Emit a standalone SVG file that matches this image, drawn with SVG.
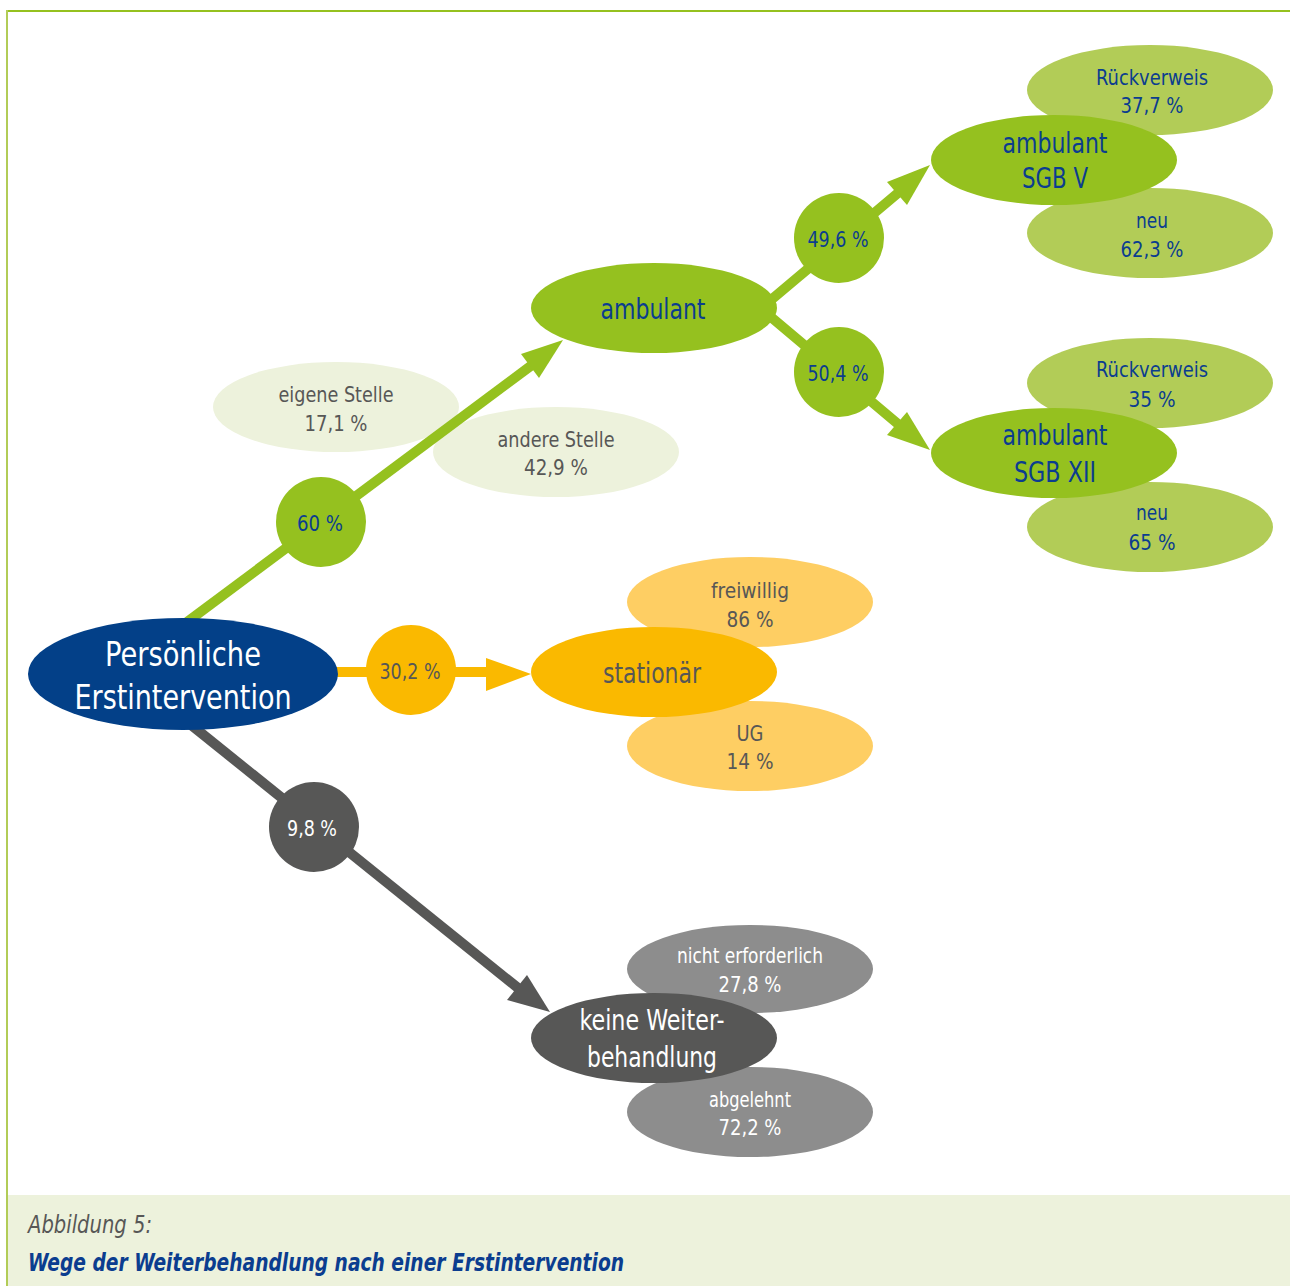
<svg xmlns="http://www.w3.org/2000/svg" width="1290" height="1286" viewBox="0 0 1290 1286">
<style>
text{font-family:"DejaVu Sans Condensed","Liberation Sans",sans-serif;font-stretch:condensed;text-anchor:middle}
.big{font-size:29px}
.sm{font-size:22px}
.pc{font-size:22px}
.blue{fill:#0B3D8F}
.gray{fill:#575756}
.white{fill:#ffffff}
.g{fill:#95C11F}
.lg{fill:#B2CC57}
.vlg{fill:#EDF2DC}
.or{fill:#FAB900}
.lor{fill:#FECE63}
.dg{fill:#575756}
.mg{fill:#8D8D8D}
</style>
<rect x="0" y="0" width="1290" height="1286" fill="#ffffff"/>
<rect x="8" y="1195" width="1282" height="91" fill="#EDF2DC"/>
<line x1="7" y1="11" x2="1290" y2="11" stroke="#95C11F" stroke-width="2"/>
<line x1="7" y1="10" x2="7" y2="1286" stroke="#B2CC57" stroke-width="2"/>

<g id="eigene-stelle"><ellipse cx="336" cy="407" rx="123" ry="45" class="vlg"/><text class="sm gray" x="336" y="402" textLength="115" lengthAdjust="spacingAndGlyphs">eigene Stelle</text><text class="sm gray" x="336" y="431" textLength="63" lengthAdjust="spacingAndGlyphs">17,1 %</text></g>
<g id="andere-stelle"><ellipse cx="556" cy="452" rx="123" ry="45" class="vlg"/><text class="sm gray" x="556" y="447" textLength="117" lengthAdjust="spacingAndGlyphs">andere Stelle</text><text class="sm gray" x="556" y="475" textLength="64" lengthAdjust="spacingAndGlyphs">42,9 %</text></g>

<g id="connectors">
<g fill="#95C11F" stroke="#95C11F">
<line x1="183" y1="625" x2="532" y2="365" stroke-width="10"/>
<polygon points="563,340 521,354 539,378" stroke="none"/>
<line x1="765" y1="305" x2="898" y2="193" stroke-width="10"/>
<polygon points="930,165 887,182 907,205" stroke="none"/>
<line x1="765" y1="312" x2="898" y2="424" stroke-width="10"/>
<polygon points="930,450 887,435 907,412" stroke="none"/>
</g>
<line x1="300" y1="672" x2="488" y2="672" stroke="#FAB900" stroke-width="10"/>
<polygon points="531,674 486,658 486,691" fill="#FAB900"/>
<line x1="185" y1="720" x2="518" y2="988" stroke="#575756" stroke-width="10"/>
<polygon points="550,1012 507,1000 527,975" fill="#575756"/>
</g>

<g id="p60"><circle cx="321" cy="522" r="45" class="g"/><text class="pc blue" x="320" y="531" textLength="46" lengthAdjust="spacingAndGlyphs">60 %</text></g>
<g id="p496"><circle cx="839" cy="238" r="45" class="g"/><text class="pc blue" x="838" y="247" textLength="61" lengthAdjust="spacingAndGlyphs">49,6 %</text></g>
<g id="p504"><circle cx="839" cy="372" r="45" class="g"/><text class="pc blue" x="838" y="381" textLength="61" lengthAdjust="spacingAndGlyphs">50,4 %</text></g>
<g id="p302"><circle cx="411" cy="670" r="45" class="or"/><text class="pc gray" x="410" y="679" textLength="61" lengthAdjust="spacingAndGlyphs">30,2 %</text></g>
<g id="p98"><circle cx="314" cy="827" r="45" class="dg"/><text class="pc white" x="312" y="836" textLength="50" lengthAdjust="spacingAndGlyphs">9,8 %</text></g>

<g id="root"><ellipse cx="183" cy="674" rx="155" ry="56" fill="#034088"/><text class="white" font-size="33" x="183" y="666" textLength="156" lengthAdjust="spacingAndGlyphs">Persönliche</text><text class="white" font-size="33" x="183" y="709" textLength="217" lengthAdjust="spacingAndGlyphs">Erstintervention</text></g>

<g id="ambulant"><ellipse cx="654" cy="308" rx="123" ry="45" class="g"/><text class="big blue" x="653" y="319" textLength="105" lengthAdjust="spacingAndGlyphs">ambulant</text></g>

<g id="sgbv-rueck"><ellipse cx="1150" cy="90" rx="123" ry="45" class="lg"/><text class="sm blue" x="1152" y="85" textLength="112" lengthAdjust="spacingAndGlyphs">Rückverweis</text><text class="sm blue" x="1152" y="113" textLength="63" lengthAdjust="spacingAndGlyphs">37,7 %</text></g>
<g id="sgbv-neu"><ellipse cx="1150" cy="233" rx="123" ry="45" class="lg"/><text class="sm blue" x="1152" y="228" textLength="32" lengthAdjust="spacingAndGlyphs">neu</text><text class="sm blue" x="1152" y="257" textLength="63" lengthAdjust="spacingAndGlyphs">62,3 %</text></g>
<g id="sgbv"><ellipse cx="1054" cy="160" rx="123" ry="45" class="g"/><text class="big blue" x="1055" y="153" textLength="105" lengthAdjust="spacingAndGlyphs">ambulant</text><text class="big blue" x="1055" y="188" textLength="66" lengthAdjust="spacingAndGlyphs">SGB V</text></g>

<g id="sgbxii-rueck"><ellipse cx="1150" cy="383" rx="123" ry="45" class="lg"/><text class="sm blue" x="1152" y="377" textLength="112" lengthAdjust="spacingAndGlyphs">Rückverweis</text><text class="sm blue" x="1152" y="407" textLength="47" lengthAdjust="spacingAndGlyphs">35 %</text></g>
<g id="sgbxii-neu"><ellipse cx="1150" cy="527" rx="123" ry="45" class="lg"/><text class="sm blue" x="1152" y="520" textLength="32" lengthAdjust="spacingAndGlyphs">neu</text><text class="sm blue" x="1152" y="550" textLength="47" lengthAdjust="spacingAndGlyphs">65 %</text></g>
<g id="sgbxii"><ellipse cx="1054" cy="453" rx="123" ry="45" class="g"/><text class="big blue" x="1055" y="445" textLength="105" lengthAdjust="spacingAndGlyphs">ambulant</text><text class="big blue" x="1055" y="482" textLength="82" lengthAdjust="spacingAndGlyphs">SGB XII</text></g>

<g id="freiwillig"><ellipse cx="750" cy="602" rx="123" ry="45" class="lor"/><text class="sm gray" x="750" y="598" textLength="78" lengthAdjust="spacingAndGlyphs">freiwillig</text><text class="sm gray" x="750" y="627" textLength="47" lengthAdjust="spacingAndGlyphs">86 %</text></g>
<g id="ug"><ellipse cx="750" cy="746" rx="123" ry="45" class="lor"/><text class="sm gray" x="750" y="741" textLength="27" lengthAdjust="spacingAndGlyphs">UG</text><text class="sm gray" x="750" y="769" textLength="47" lengthAdjust="spacingAndGlyphs">14 %</text></g>
<g id="stationaer"><ellipse cx="654" cy="672" rx="123" ry="45" class="or"/><text class="big gray" x="652" y="683" textLength="98" lengthAdjust="spacingAndGlyphs">stationär</text></g>

<g id="nicht-erforderlich"><ellipse cx="750" cy="969" rx="123" ry="44" class="mg"/><text class="sm white" x="750" y="963" textLength="146" lengthAdjust="spacingAndGlyphs">nicht erforderlich</text><text class="sm white" x="750" y="992" textLength="63" lengthAdjust="spacingAndGlyphs">27,8 %</text></g>
<g id="abgelehnt"><ellipse cx="750" cy="1112" rx="123" ry="45" class="mg"/><text class="sm white" x="750" y="1107" textLength="82" lengthAdjust="spacingAndGlyphs">abgelehnt</text><text class="sm white" x="750" y="1135" textLength="63" lengthAdjust="spacingAndGlyphs">72,2 %</text></g>
<g id="keine"><ellipse cx="654" cy="1038" rx="123" ry="45" class="dg"/><text class="big white" x="652" y="1030" textLength="145" lengthAdjust="spacingAndGlyphs">keine Weiter-</text><text class="big white" x="652" y="1067" textLength="130" lengthAdjust="spacingAndGlyphs">behandlung</text></g>

<g id="caption">
<text x="28" y="1233" font-size="24" font-style="italic" fill="#575756" style="text-anchor:start" textLength="124" lengthAdjust="spacingAndGlyphs">Abbildung 5:</text>
<text x="28" y="1271" font-size="24" font-style="italic" font-weight="bold" fill="#0B3D8F" style="text-anchor:start" textLength="596" lengthAdjust="spacingAndGlyphs">Wege der Weiterbehandlung nach einer Erstintervention</text>
</g>
</svg>
